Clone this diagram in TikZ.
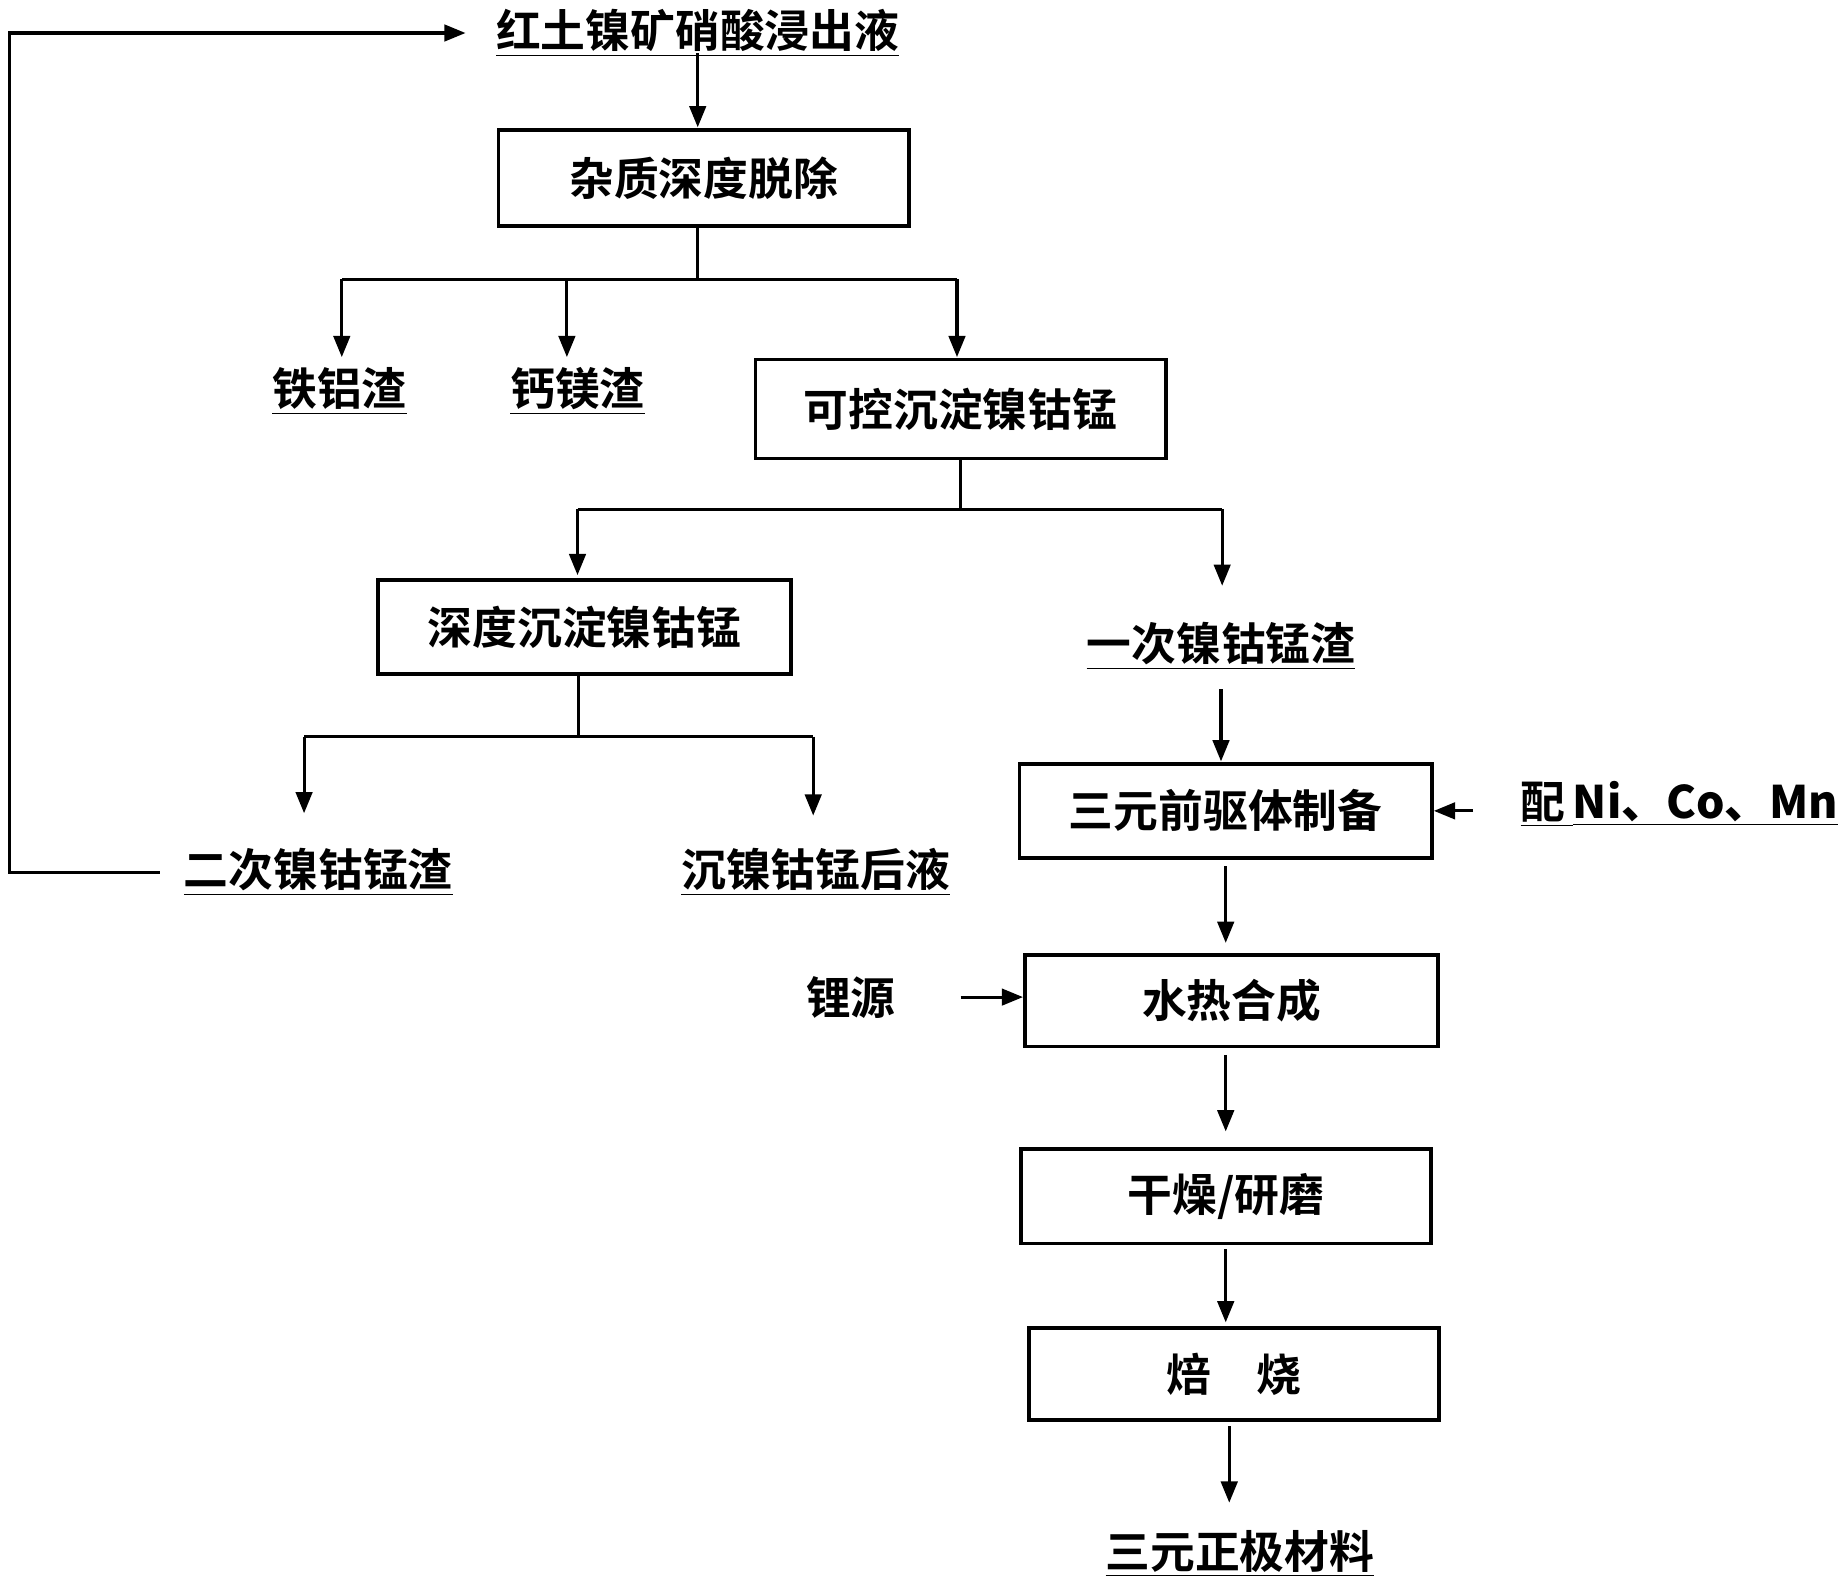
\documentclass[tikz,border=0pt]{standalone}
\usepackage{fontspec}
\setmainfont{Liberation Serif}
\newfontfamily\cjk{Noto Sans CJK SC Bold}
\usetikzlibrary{arrows.meta}
\begin{document}
\begin{tikzpicture}[x=0.5pt,y=-0.5pt,
 box/.style={draw,line width=1.6pt,inner sep=0pt,font=\cjk\fontsize{19}{19}\selectfont},
 lab/.style={inner sep=1pt,font=\cjk\fontsize{19}{19}\selectfont},
 ln/.style={line width=1.3pt},
 ar/.style={ln,-{Triangle[length=9pt,width=7pt]}}]
\useasboundingbox (0,0) rectangle (1568,1350);
\node[lab] (t0) at (592,28) {\underline{红土镍矿硝酸浸出液}};
\node[box,minimum width=174pt,minimum height=41pt] (b1) at (597,151) {杂质深度脱除};
\node[lab] (s1) at (288,332) {\underline{铁铝渣}};
\node[lab] (s2) at (490,332) {\underline{钙镁渣}};
\node[box,minimum width=174pt,minimum height=42pt] (b2) at (815,347) {可控沉淀镍钴锰};
\node[box,minimum width=175pt,minimum height=40pt] (b3) at (496,532) {深度沉淀镍钴锰};
\node[lab] (s3) at (1036,548) {\underline{一次镍钴锰渣}};
\node[lab] (s4) at (270,740) {\underline{二次镍钴锰渣}};
\node[lab] (s5) at (692,740) {\underline{沉镍钴锰后液}};
\node[box,minimum width=175pt,minimum height=40pt] (b4) at (1040,688) {三元前驱体制备};
\node[lab] (p) at (1425,682) {\underline{\cjk 配\,}\underline{\bfseries Ni{\cjk 、}Co{\cjk 、}Mn}};
\node[box,minimum width=175pt,minimum height=39pt] (b5) at (1045,849) {水热合成};
\node[lab] (li) at (722,846) {锂源};
\node[box,minimum width=174pt,minimum height=40pt] (b6) at (1040,1015) {干燥/研磨};
\node[box,minimum width=174pt,minimum height=39pt] (b7) at (1047,1166) {焙\quad 烧};
\node[lab] (s6) at (1052,1318) {\underline{三元正极材料}};
\coordinate (j1) at (592,237);
\coordinate (j2) at (815,432);
\coordinate (j3) at (491,625);
\draw[ar] (s4.west) ++(-18,0) -- (8,740) -- (8,28) -- (395,28);
\draw[ar] (592,45) -- (592,108);
\draw[ln] (592,192) -- (j1);
\draw[ln] (290,237) -- (812,237);
\draw[ar] (290,237) -- (290,303);
\draw[ar] (481,237) -- (481,303);
\draw[ar] (812,237) -- (812,303);
\draw[ln] (b2.south) -- (j2);
\draw[ln] (490,432) -- (1037,432);
\draw[ar] (490,432) -- (490,488);
\draw[ar] (1037,432) -- (1037,497);
\draw[ln] (491,573) -- (j3);
\draw[ln] (258,625) -- (690,625);
\draw[ar] (258,625) -- (258,690);
\draw[ar] (690,625) -- (690,692);
\draw[ar] (1036,585) -- (1036,646);
\draw[ar] (1250,688) -- (b4.east);
\draw[ar] (1040,735) -- (1040,800);
\draw[ar] (815,846) -- (868,846);
\draw[ar] (1040,895) -- (1040,960);
\draw[ar] (1040,1060) -- (1040,1122);
\draw[ar] (1043,1210) -- (1043,1275);
\end{tikzpicture}
\end{document}
